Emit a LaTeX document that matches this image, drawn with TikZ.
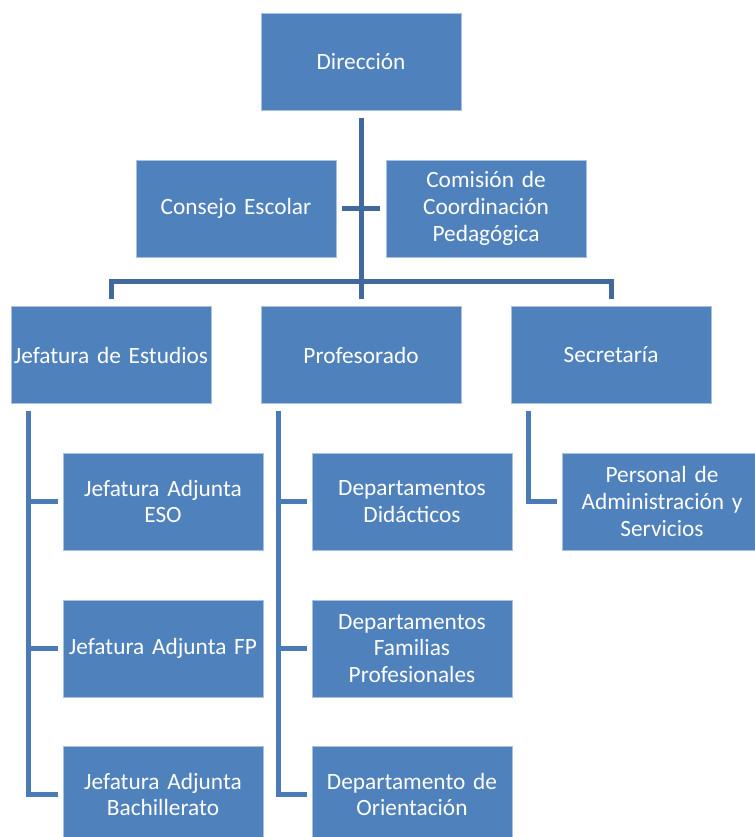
\documentclass[tikz,border=0pt]{standalone}
\usepackage{fontspec}
\setmainfont{Carlito}
\usetikzlibrary{positioning, calc}
\definecolor{boxblue}{HTML}{4F81BD}
\definecolor{boxedge}{HTML}{A9C0DF}
\definecolor{toplinkc}{HTML}{41699D}
\definecolor{sublinkc}{HTML}{4A7BB6}
\tikzset{
	unit/.style={rectangle, draw=boxedge, line width=0.5pt, fill=boxblue, text=white, text width=150pt, align=center, minimum width=150pt, minimum height=72.75pt, inner sep=0pt, font=\fontsize{17.5}{20}\selectfont},
	toplink/.style={draw=toplinkc, line width=3.75pt},
	sublink/.style={draw=sublinkc, line width=3.75pt}
}

\begin{document}
\begin{tikzpicture}[x=0.75pt, y=-0.75pt]
    \useasboundingbox (0,0) rectangle (755,837);
    \clip (0,0) rectangle (755,837);
    % Nodes
    \node[unit] (dir) at (361,62) {Dirección};
    \node[unit] (consejo) at (236,208.5) {Consejo Escolar};
    \node[unit] (comision) at (486,208.5) {Comisión de\\Coordinación\\Pedagógica};
    \node[unit] (jefatura) at (111,355) {Jefatura de Estudios};
    \node[unit] (profesorado) at (361,355) {Profesorado};
    \node[unit] (secretaria) at (611,355) {Secretaría};
    \node[unit] (jaeso) at (163,501.5) {Jefatura Adjunta\\ESO};
    \node[unit] (jafp) at (163,648.5) {Jefatura Adjunta FP};
    \node[unit] (jabach) at (163,794.5) {Jefatura Adjunta\\Bachillerato};
    \node[unit] (dpdid) at (412,501.5) {Departamentos\\Didácticos};
    \node[unit] (dpfam) at (412,648.5) {Departamentos\\Familias\\Profesionales};
    \node[unit] (dporient) at (412,794.5) {Departamento de\\Orientación};
    \node[unit] (pas) at (662,501.5) {Personal de\\Administración y\\Servicios};
    % Top connectors
    \coordinate (bus) at (361,282);
    \draw[toplink] ([yshift=-5.25pt]dir.south) -- ([yshift=5.25pt]profesorado.north);
    \draw[toplink] ([xshift=4.5pt]consejo.east) -- ([xshift=-4.5pt]comision.west);
    \draw[toplink] ([yshift=5.25pt]jefatura.north) |- (bus) -| ([yshift=5.25pt]secretaria.north);
    % Jefatura de Estudios
    \coordinate (jstem) at ([xshift=13.5pt, yshift=-5.25pt]jefatura.south west);
    \draw[sublink] (jstem) |- ([xshift=-3.75pt]jabach.west);
    \draw[sublink] ([xshift=-3.75pt]jaeso.west) -- (jaeso.west -| jstem);
    \draw[sublink] ([xshift=-3.75pt]jafp.west) -- (jafp.west -| jstem);
    % Profesorado
    \coordinate (pstem) at ([xshift=13.5pt, yshift=-5.25pt]profesorado.south west);
    \draw[sublink] (pstem) |- ([xshift=-3.75pt]dporient.west);
    \draw[sublink] ([xshift=-3.75pt]dpdid.west) -- (dpdid.west -| pstem);
    \draw[sublink] ([xshift=-3.75pt]dpfam.west) -- (dpfam.west -| pstem);
    % Secretaria
    \coordinate (sstem) at ([xshift=13.5pt, yshift=-5.25pt]secretaria.south west);
    \draw[sublink] (sstem) |- ([xshift=-3.75pt]pas.west);
\end{tikzpicture}
\end{document}
